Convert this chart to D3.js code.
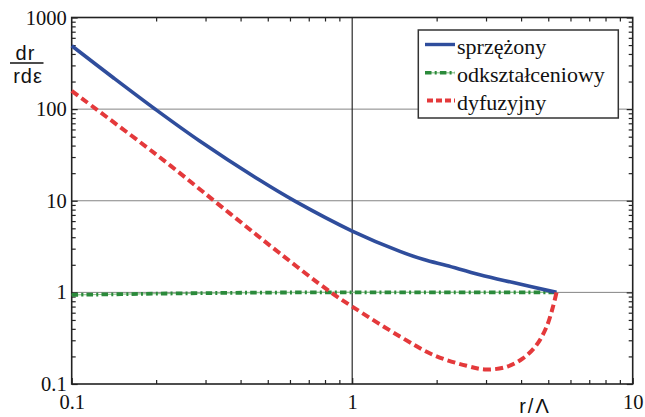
<!DOCTYPE html>
<html>
<head>
<meta charset="utf-8">
<script src="https://cdn.jsdelivr.net/npm/d3@7"></script>
<style>
  html, body { margin: 0; padding: 0; background: #fff; }
  svg { display: block; }
  .serif { font-family: "Liberation Serif", "DejaVu Serif", "Noto Serif", "Times New Roman", Times, serif; }
</style>
</head>
<body>
<svg id="chart" width="645" height="417"></svg>
<script>
// ---- data ----
const xMajorTicks = [0.1, 1, 10];
const yMajorTicks = [0.1, 1, 10, 100, 1000];
const gridY = [1, 10, 100];
const gridX = [1];

const seriesNames = ["sprzężony", "odkształceniowy", "dyfuzyjny"];

const sprzezonyX = [0.1, 0.14, 0.198, 0.286, 0.469, 0.625, 1.0, 1.48, 1.8, 2.17, 2.85, 3.75, 5.35];
const sprzezonyY = [492, 223, 100.5, 44.9, 16.7, 9.9, 4.67, 2.80, 2.28, 1.96, 1.56, 1.28, 1.0];

const odkszX = [0.1, 0.15, 0.2, 0.3, 0.5, 1.0, 2.0, 5.35];
const odkszY = [0.94, 0.955, 0.968, 0.982, 0.995, 1.0, 1.0, 1.0];

const dyfuzX = [0.1, 0.2, 0.366, 0.552, 0.834, 1.0, 1.48, 1.95, 2.56, 3.01, 3.55, 4.06, 4.54, 4.93, 5.2, 5.35];
const dyfuzY = [158, 32, 7.28, 2.67, 1.015, 0.70, 0.33, 0.207, 0.158, 0.144, 0.154, 0.19, 0.266, 0.42, 0.70, 1.0];

// ---- layout ----
const svg = d3.select("#chart");
const L = 71.7, R = 632.7, T = 17.5, B = 384;

const x = d3.scaleLog().domain([0.1, 10]).range([L, R]);
const y = d3.scaleLog().domain([0.1, 1000]).range([B, T]);

function minorTicks(lo, hi) {
  const out = [];
  for (let d = lo; d < hi; d *= 10) {
    for (let k = 2; k <= 9; k++) out.push(d * k);
  }
  return out;
}
const xMinor = minorTicks(0.1, 10);
const yMinor = minorTicks(0.1, 1000);

// grid
const grid = svg.append("g");
grid.selectAll("line.gy").data(gridY).enter().append("line")
  .attr("x1", L).attr("x2", R)
  .attr("y1", d => y(d)).attr("y2", d => y(d))
  .attr("stroke", "#858585").attr("stroke-width", 1);
grid.selectAll("line.gx").data(gridX).enter().append("line")
  .attr("x1", d => x(d)).attr("x2", d => x(d))
  .attr("y1", T).attr("y2", B)
  .attr("stroke", "#2a2a2a").attr("stroke-width", 1.2);

// axes
const axisColor = "#222";
function styleAxis(g) {
  g.attr("font-family", null).attr("font-size", null);
  g.select(".domain").remove();
  g.selectAll(".tick line").attr("stroke", axisColor).attr("stroke-width", 1.2);
  g.selectAll(".tick text").attr("fill", "#111").attr("class", "serif")
    .style("font-size", "20.5px");
}

// bottom
svg.append("g").attr("transform", `translate(0,${B})`)
  .call(d3.axisBottom(x).tickValues(xMajorTicks).tickSize(-6).tickPadding(10)
    .tickFormat(d3.format("~g")))
  .call(styleAxis);
svg.append("g").attr("transform", `translate(0,${B})`)
  .call(d3.axisBottom(x).tickValues(xMinor).tickSize(-4).tickFormat(""))
  .call(styleAxis);
// top
svg.append("g").attr("transform", `translate(0,${T})`)
  .call(d3.axisTop(x).tickValues(xMinor).tickSize(-4).tickFormat(""))
  .call(styleAxis);
// left
svg.append("g").attr("transform", `translate(${L},0)`)
  .call(d3.axisLeft(y).tickValues(yMajorTicks).tickSize(-6).tickPadding(5)
    .tickFormat(d3.format("~g")))
  .call(styleAxis);
svg.append("g").attr("transform", `translate(${L},0)`)
  .call(d3.axisLeft(y).tickValues(yMinor).tickSize(-4).tickFormat(""))
  .call(styleAxis);
// right
svg.append("g").attr("transform", `translate(${R},0)`)
  .call(d3.axisRight(y).tickValues(yMajorTicks).tickSize(-6).tickFormat(""))
  .call(styleAxis);
svg.append("g").attr("transform", `translate(${R},0)`)
  .call(d3.axisRight(y).tickValues(yMinor).tickSize(-4).tickFormat(""))
  .call(styleAxis);

// frame
svg.append("rect").attr("x", L).attr("y", T).attr("width", R - L).attr("height", B - T)
  .attr("fill", "none").attr("stroke", axisColor).attr("stroke-width", 1.6);

// curves
const line = d3.line().x(d => x(d[0])).y(d => y(d[1])).curve(d3.curveCatmullRom.alpha(0.5));
const zip = (a, b) => a.map((v, i) => [v, b[i]]);

const plot = svg.append("g");
const gData = zip(odkszX, odkszY);
plot.append("path").attr("d", line(gData)).attr("fill", "none")
  .attr("stroke", "#8cc48c").attr("stroke-width", 1.2);
plot.append("path").attr("d", line(gData)).attr("fill", "none")
  .attr("stroke", "#2b8a3b").attr("stroke-width", 3.8)
  .attr("stroke-dasharray", "6.5,3.2,2,3.2");

plot.append("path").attr("d", line(zip(sprzezonyX, sprzezonyY))).attr("fill", "none")
  .attr("stroke", "#2f4d9c").attr("stroke-width", 3.6);

plot.append("path").attr("d", line(zip(dyfuzX, dyfuzY))).attr("fill", "none")
  .attr("stroke", "#e4393b").attr("stroke-width", 4)
  .attr("stroke-dasharray", "8,4.2");

// y label (fraction)
const sans = "'Liberation Sans', Arial, sans-serif";
svg.append("text").attr("x", 25.5).attr("y", 60).attr("text-anchor", "middle")
  .style("font-family", sans).style("font-size", "20px").attr("fill", "#111")
  .attr("letter-spacing", "1px").text("dr");
svg.append("line").attr("x1", 10).attr("x2", 43.5).attr("y1", 63).attr("y2", 63)
  .attr("stroke", "#111").attr("stroke-width", 1.6);
svg.append("text").attr("x", 28).attr("y", 83).attr("text-anchor", "middle")
  .style("font-family", sans).style("font-size", "20px").attr("fill", "#111")
  .attr("letter-spacing", "1px").text("rdε");

// x label
svg.append("text").attr("x", 535).attr("y", 413).attr("text-anchor", "middle")
  .style("font-family", sans).style("font-size", "20px").attr("fill", "#111")
  .attr("letter-spacing", "2px").text("r/Λ");

// legend
const leg = svg.append("g");
leg.append("rect").attr("x", 418.3).attr("y", 30).attr("width", 200).attr("height", 88)
  .attr("fill", "#fff").attr("stroke", "#333").attr("stroke-width", 1.5);
const legRows = [44.5, 72.8, 100.5];
const legStyles = [
  {stroke: "#2f4d9c", width: 3.4, dash: null},
  {stroke: "#2b8a3b", width: 3.4, dash: "6.5,3.2,2,3.2"},
  {stroke: "#e4393b", width: 3.8, dash: "6,3"}
];
seriesNames.forEach((name, i) => {
  const yy = legRows[i];
  if (i === 1) {
    leg.append("line").attr("x1", 425).attr("x2", 455).attr("y1", yy).attr("y2", yy)
      .attr("stroke", "#8cc48c").attr("stroke-width", 1.2);
  }
  const ln = leg.append("line").attr("x1", i === 2 ? 427 : 425).attr("x2", 455).attr("y1", yy).attr("y2", yy)
    .attr("stroke", legStyles[i].stroke).attr("stroke-width", legStyles[i].width);
  if (legStyles[i].dash) ln.attr("stroke-dasharray", legStyles[i].dash);
  leg.append("text").attr("x", 457).attr("y", yy + 9).attr("class", "serif")
    .style("font-size", "22px").attr("fill", "#111").text(name);
});
</script>
</body>
</html>
